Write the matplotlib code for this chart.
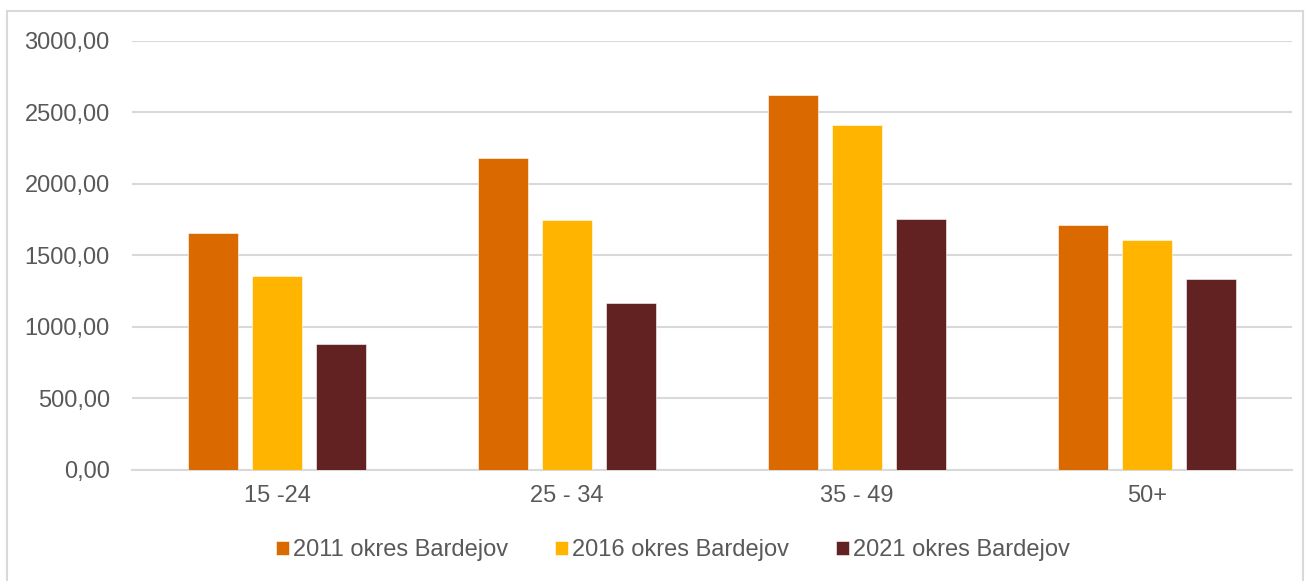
import matplotlib.pyplot as plt
import numpy as np
from matplotlib.patches import Rectangle
from matplotlib.ticker import FuncFormatter

plt.rcParams['font.family'] = ['Liberation Sans', 'DejaVu Sans']

categories = ['15 -24', '25 - 34', '35 - 49', '50+']
series_names = ['2011 okres Bardejov', '2016 okres Bardejov', '2021 okres Bardejov']
values_2011 = [1659, 2184, 2620, 1713]
values_2016 = [1352, 1750, 2415, 1604]
values_2021 = [876, 1163, 1757, 1336]
colors = ['#DA6A00', '#FFB400', '#632222']

W, H = 1309, 581
fig = plt.figure(figsize=(W / 100, H / 100), dpi=100)
ax = fig.add_axes([132 / W, (H - 469.5) / H, (1292 - 132) / W, (469.5 - 41) / H])

x = np.arange(len(categories))
bar_w = 0.172
step = 0.222
for i, (vals, name, col) in enumerate(zip([values_2011, values_2016, values_2021], series_names, colors)):
    ax.bar(x + (i - 1) * step, vals, width=bar_w, color=col, label=name,
           edgecolor='white', linewidth=0.4, zorder=3)

ax.set_xlim(-0.5, len(categories) - 0.5)
ax.set_ylim(0, 3000)
ax.set_yticks(np.arange(0, 3001, 500))
ax.yaxis.set_major_formatter(FuncFormatter(lambda v, p: f'{v:.2f}'.replace('.', ',')))
ax.set_xticks(x)
ax.set_xticklabels(categories)
ax.grid(axis='y', color='#D9D9D9', linewidth=1.5, zorder=0)
for s in ['left', 'right', 'top']:
    ax.spines[s].set_visible(False)
ax.spines['bottom'].set_color('#D9D9D9')
ax.spines['bottom'].set_linewidth(1.5)
ax.tick_params(axis='both', length=0, labelsize=17, colors='#595959')
ax.tick_params(axis='y', pad=16)
ax.tick_params(axis='x', pad=11)

leg = fig.legend(loc='center', bbox_to_anchor=(673 / W, (H - 550) / H), ncol=3, frameon=False,
                 fontsize=17, handlelength=0.53, handleheight=0.53, handletextpad=0.17,
                 columnspacing=2.0, labelcolor='#595959')

# outer chart frame
fig.patches.append(Rectangle((7 / W, -0.01), (1303 - 7) / W, (H - 11) / H + 0.01,
                             transform=fig.transFigure, fill=False,
                             edgecolor='#D9D9D9', linewidth=1.5))

plt.savefig('out.png', dpi=100)
